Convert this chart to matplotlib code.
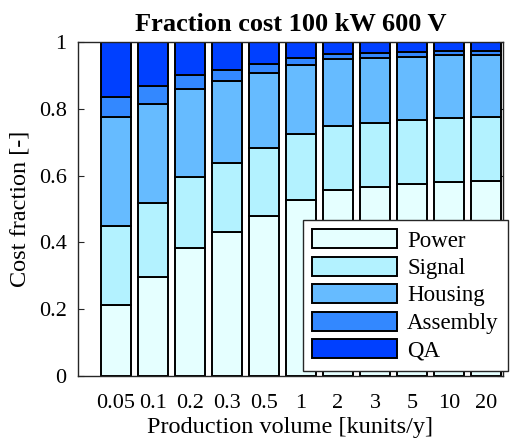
"""
Stacked cost fractions for the 100 kW / 600 V design vs production volume
"""
import matplotlib
matplotlib.use("Agg")
import matplotlib.pyplot as plt
import numpy as np

plt.rcParams['font.family'] = ['Liberation Serif', 'DejaVu Serif']

# production volumes (kunits/y) used as category labels
volumes = ['0.05', '0.1', '0.2', '0.3', '0.5', '1', '2', '3', '5', '10', '20']

# cost fractions per part
power = [0.214, 0.295, 0.383, 0.431, 0.480, 0.527, 0.556, 0.565, 0.575, 0.581, 0.585]
signal = [0.235, 0.223, 0.214, 0.207, 0.202, 0.197, 0.194, 0.193, 0.192, 0.190, 0.189]
housing = [0.325, 0.295, 0.262, 0.246, 0.226, 0.208, 0.198, 0.194, 0.189, 0.189, 0.188]
assembly = [0.062, 0.054, 0.041, 0.032, 0.027, 0.020, 0.015, 0.016, 0.015, 0.013, 0.010]
qa = [0.164, 0.133, 0.100, 0.084, 0.065, 0.048, 0.037, 0.032, 0.029, 0.027, 0.028]

parts = ['Power', 'Signal', 'Housing', 'Assembly', 'QA']
colors = ['#e5ffff', '#b3f2ff', '#66bbff', '#3388ff', '#0040ff']

fig = plt.figure(figsize=(5.14, 4.40), dpi=100)
ax = fig.add_axes([0.151, 0.1455, 0.828, 0.759])

x = np.arange(1, len(volumes) + 1)
bottom = np.zeros(len(volumes))
handles = []
for name, vals, col in zip(parts, [power, signal, housing, assembly, qa], colors):
    vals = np.array(vals)
    h = ax.bar(x, vals, width=0.8, bottom=bottom, color=col,
               edgecolor='black', linewidth=1.4, label=name, zorder=2)
    handles.append(h)
    bottom += vals

ax.set_xlim(-0.03, 11.46)
ax.set_ylim(0, 1)
ax.set_xticks(x)
ax.set_xticklabels(volumes)
ax.set_yticks([0, 0.2, 0.4, 0.6, 0.8, 1])
ax.set_yticklabels(['0', '0.2', '0.4', '0.6', '0.8', '1'])
ax.tick_params(direction='in', length=4, width=0.8, labelsize=16,
               top=True, right=True, color='#262626')
ax.tick_params(axis='x', pad=13)
ax.tick_params(axis='y', pad=8)
ax.set_axisbelow(True)
for s in ax.spines.values():
    s.set_linewidth(1.0)
    s.set_color('#262626')

ax.set_xlabel('Production volume [kunits/y]', fontsize=17.5, labelpad=3)
ax.set_ylabel('Cost fraction [-]', fontsize=17.5, labelpad=6)
ax.set_title('Fraction cost 100 kW 600 V', fontsize=19, fontweight='bold', pad=8)

leg = ax.legend(handles=handles, loc='upper left',
                bbox_to_anchor=(303 / 514, 1 - 220 / 440),
                bbox_transform=fig.transFigure, borderaxespad=0,
                fancybox=False, fontsize=16.5, handlelength=3.7,
                handleheight=0.9, labelspacing=0.22, handletextpad=0.45,
                borderpad=0.4, framealpha=1)
leg.get_frame().set_edgecolor('#262626')
leg.get_frame().set_linewidth(1.0)

fig.savefig('out.png', dpi=100)
